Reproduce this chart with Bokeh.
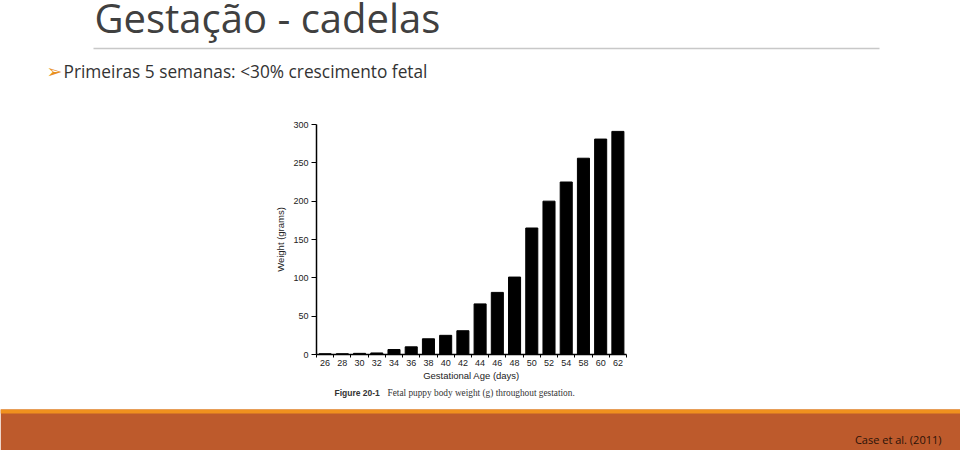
from bokeh.plotting import figure
from bokeh.layouts import column, row
from bokeh.models import Range1d, FixedTicker, Spacer
from bokeh.core.properties import value
from bokeh.embed import file_html
from bokeh.resources import INLINE

# ---- data ----
days = [26, 28, 30, 32, 34, 36, 38, 40, 42, 44, 46, 48, 50, 52, 54, 58, 60, 62]
weights = [1, 1, 1.5, 2, 6.5, 10, 20.5, 25, 31, 66, 81, 101, 165, 200, 225, 256, 281, 291]
y_ticks = [0, 50, 100, 150, 200, 250, 300]

slide_title = "Gestação - cadelas"
bullet_text = "Primeiras 5 semanas: <30% crescimento fetal"
x_label = "Gestational Age (days)"
y_label = "Weight (grams)"
caption_head = "Figure 20-1"
caption_text = "Fetal puppy body weight (g) throughout gestation."
source_text = "Case et al. (2011)"

W = 960

# ---- top part of the slide ----
top = figure(width=W, height=105, x_range=Range1d(0, W), y_range=Range1d(105, 0),
             output_backend="svg", toolbar_location=None,
             x_axis_type=None, y_axis_type=None, min_border=0)
top.outline_line_color = None
top.grid.visible = False
top.text(x=[94], y=[17], text=[slide_title], text_font=value("Open Sans"),
         text_font_size="40px", text_color="#404040", text_baseline="alphabetic")
top.line(x=[93, 879], y=[48, 48], line_color="#c8c8c8", line_width=1.5)
top.text(x=[46], y=[70], text=["➢"], text_font=value("DejaVu Sans"),
         text_font_size="19px", text_color="#E8901E", text_baseline="alphabetic")
top.text(x=[63], y=[71], text=[bullet_text], text_font=value("Open Sans"),
         text_font_size="17.3px", text_color="#333333", text_baseline="alphabetic")

# ---- chart ----
n = len(days)
idx = list(range(n))
chart = figure(width=370, height=280, x_range=Range1d(-0.5, n - 0.5), y_range=Range1d(0, 300),
               output_backend="svg", toolbar_location=None,
               min_border_left=46, min_border_right=14, min_border_top=19, min_border_bottom=31)
chart.outline_line_color = None
chart.grid.visible = False
chart.vbar(x=idx, top=weights, width=0.7, color="black")

xa = chart.xaxis[0]
xa.ticker = FixedTicker(ticks=idx, minor_ticks=[i - 0.5 for i in range(n + 1)])
xa.major_label_overrides = {i: str(d) for i, d in zip(idx, days)}
xa.major_tick_out = 0
xa.major_tick_in = 0
xa.minor_tick_out = 3
xa.minor_tick_in = 0
xa.minor_tick_line_color = "black"
xa.axis_line_width = 1.5
xa.major_label_standoff = 2
xa.major_label_text_font = "Liberation Sans"
xa.major_label_text_font_size = "9px"
xa.major_label_text_color = "#222222"
xa.axis_label = x_label
xa.axis_label_text_font = "Liberation Sans"
xa.axis_label_text_font_size = "9.5px"
xa.axis_label_text_font_style = "normal"
xa.axis_label_text_color = "#222222"
xa.axis_label_standoff = 1

ya = chart.yaxis[0]
ya.ticker = FixedTicker(ticks=y_ticks)
ya.major_tick_out = 5
ya.major_tick_in = 0
ya.minor_tick_out = 0
ya.minor_tick_in = 0
ya.axis_line_width = 1.5
ya.major_label_standoff = 3
ya.major_label_text_font = "Liberation Sans"
ya.major_label_text_font_size = "9px"
ya.major_label_text_color = "#222222"
ya.axis_label = y_label
ya.axis_label_text_font = "Liberation Sans"
ya.axis_label_text_font_size = "9.5px"
ya.axis_label_text_font_style = "normal"
ya.axis_label_text_color = "#222222"
ya.axis_label_standoff = 4

# ---- bottom: caption and band ----
bottom = figure(width=W, height=65, x_range=Range1d(0, W), y_range=Range1d(450, 385),
                output_backend="svg", toolbar_location=None,
                x_axis_type=None, y_axis_type=None, min_border=0)
bottom.outline_line_color = None
bottom.grid.visible = False
bottom.text(x=[334], y=[392], text=[caption_head], text_font=value("Liberation Sans"),
            text_font_size="8.5px", text_font_style="bold", text_color="#333333",
            text_baseline="alphabetic")
bottom.text(x=[387], y=[392], text=[caption_text], text_font=value("Liberation Serif"),
            text_font_size="9.3px", text_color="#333333", text_baseline="alphabetic")
bottom.quad(left=[0], right=[W], top=[409], bottom=[450], color="#BD5A2C", line_color=None)
bottom.quad(left=[0], right=[W], top=[409], bottom=[413], color="#F0901E", line_color=None)
bottom.text(x=[941], y=[439], text=[source_text], text_font=value("Open Sans"),
            text_font_size="11px", text_color="#2a1208", text_align="right",
            text_baseline="alphabetic")

layout = column(top,
                row(Spacer(width=270, height=280), chart, Spacer(width=320, height=280)),
                bottom)

open("out.html", "w").write(file_html(layout, INLINE))
